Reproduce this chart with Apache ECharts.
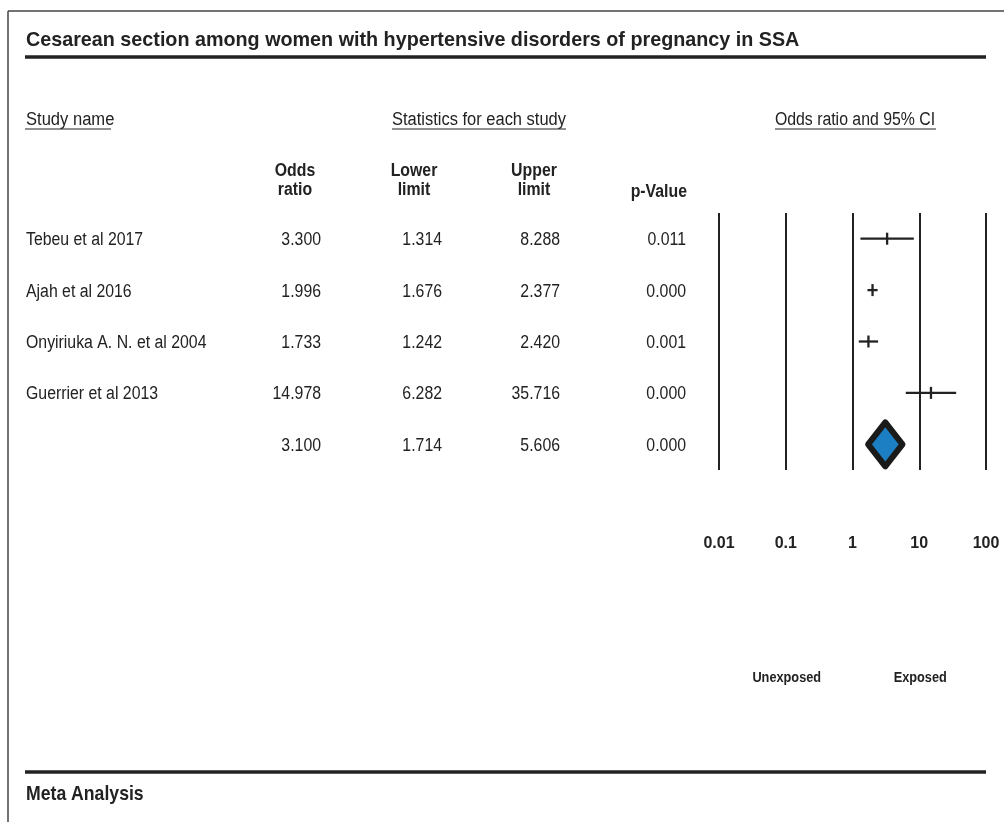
<!DOCTYPE html>
<html>
<head>
<meta charset="utf-8">
<script src="https://cdn.jsdelivr.net/npm/echarts@6/dist/echarts.min.js"></script>
<style>
  html, body { margin: 0; padding: 0; background: #fff; }
  #chart { width: 1004px; height: 822px; }
</style>
</head>
<body>
<div id="chart"></div>
<script>
// Study-level results (odds ratio with 95% CI); the last row is the pooled estimate
const studyNames   = ['Tebeu et al 2017', 'Ajah et al 2016', 'Onyiriuka A. N. et al 2004', 'Guerrier et al 2013', ''];
const oddsRatios   = [3.300, 1.996, 1.733, 14.978, 3.100];
const lowerLimits  = [1.314, 1.676, 1.242, 6.282, 1.714];
const upperLimits  = [8.288, 2.377, 2.420, 35.716, 5.606];
const pValues      = ['0.011', '0.000', '0.001', '0.000', '0.000'];
const tickLabels   = ['0.01', '0.1', '1', '10', '100'];
const rowKeys      = ['0', '1', '2', '3', '4'];
const summaryRow   = 4;

const FONT = "'Liberation Sans', Arial, Helvetica, sans-serif";
const INK = '#222';

const chart = echarts.init(document.getElementById('chart'), null, { renderer: 'canvas' });

const studyData = [];
for (let i = 0; i < summaryRow; i++) {
  studyData.push([lowerLimits[i], upperLimits[i], oddsRatios[i], i]);
}
const summaryData = [[lowerLimits[summaryRow], upperLimits[summaryRow], oddsRatios[summaryRow], summaryRow]];

chart.setOption({
  animation: false,
  backgroundColor: '#fff',
  grid: { left: 719, right: 18, top: 213, bottom: 352, containLabel: false },
  xAxis: {
    type: 'log',
    logBase: 10,
    min: 0.01,
    max: 100,
    axisLine: { show: false },
    axisTick: { show: false },
    splitLine: { show: true, lineStyle: { color: INK, width: 2 } },
    axisLabel: {
      margin: 66,
      fontFamily: FONT,
      fontWeight: 'bold',
      fontSize: 16,
      color: INK,
      formatter: (v) => tickLabels[Math.round(Math.log10(v)) + 2]
    }
  },
  yAxis: {
    type: 'category',
    data: rowKeys,
    inverse: true,
    show: false
  },
  series: [
    {
      type: 'custom',
      name: 'studies',
      data: studyData,
      encode: { x: [0, 1, 2], y: 3 },
      renderItem: (params, api) => {
        const row = api.value(3);
        const pl = api.coord([api.value(0), row]);
        const pu = api.coord([api.value(1), row]);
        const pm = api.coord([api.value(2), row]);
        const y = pm[1];
        return {
          type: 'group',
          children: [
            { type: 'line', shape: { x1: pl[0], y1: y, x2: pu[0], y2: y }, style: { stroke: INK, lineWidth: 2.3 } },
            { type: 'line', shape: { x1: pm[0], y1: y - 6, x2: pm[0], y2: y + 6 }, style: { stroke: INK, lineWidth: 2.3 } }
          ]
        };
      }
    },
    {
      type: 'custom',
      name: 'pooled',
      data: summaryData,
      encode: { x: [0, 1, 2], y: 3 },
      renderItem: (params, api) => {
        const row = api.value(3);
        const pl = api.coord([api.value(0), row]);
        const pu = api.coord([api.value(1), row]);
        const pm = api.coord([api.value(2), row]);
        const y = pm[1];
        const h = 22;
        return {
          type: 'polygon',
          shape: { points: [[pl[0], y], [pm[0], y - h], [pu[0], y], [pm[0], y + h]] },
          style: { fill: '#1c7ec3', stroke: '#1a1a1a', lineWidth: 6, lineJoin: 'round' }
        };
      }
    }
  ]
});

// Text helper: anchor at (x, y), horizontally condensed around the anchor
function label(x, y, text, o) {
  o = o || {};
  return {
    type: 'text',
    x: x,
    y: y,
    scaleX: o.sx || 0.88,
    silent: true,
    style: {
      text: text,
      fontFamily: FONT,
      fontSize: o.size || 18,
      fontWeight: o.bold ? 'bold' : 'normal',
      fill: o.color || INK,
      align: o.align || 'left',
      verticalAlign: 'middle'
    }
  };
}
function rule(x1, y1, x2, y2, w, c) {
  return { type: 'line', silent: true, shape: { x1, y1, x2, y2 }, style: { stroke: c || INK, lineWidth: w } };
}

const rowY = rowKeys.map((k, i) => chart.convertToPixel({ yAxisIndex: 0 }, i) + 1.5);

const g = [];
// frame and heavy rules
g.push(rule(8, 11, 1004, 11, 1.5, '#444'));
g.push(rule(8, 11, 8, 822, 1.5, '#444'));
g.push(rule(25, 57, 986, 57, 3.5));
g.push(rule(25, 772, 986, 772, 3.5));

// title and footer
g.push(label(26, 40, 'Cesarean section among women with hypertensive disorders of pregnancy in SSA', { size: 21, bold: true, sx: 0.94 }));
g.push(label(26, 794, 'Meta Analysis', { size: 21, bold: true, sx: 0.84 }));

// underlined section headings
g.push(label(26, 120, 'Study name', { sx: 0.92 }));
g.push(rule(25, 129, 111, 129, 1.2));
g.push(label(479, 120, 'Statistics for each study', { align: 'center', sx: 0.915 }));
g.push(rule(392, 129, 566, 129, 1.2));
g.push(label(855, 120, 'Odds ratio and 95% CI', { align: 'center', sx: 0.88 }));
g.push(rule(775, 129, 936, 129, 1.2));

// column headings
g.push(label(295, 171, 'Odds', { align: 'center', bold: true }));
g.push(label(295, 190, 'ratio', { align: 'center', bold: true }));
g.push(label(414, 171, 'Lower', { align: 'center', bold: true }));
g.push(label(414, 190, 'limit', { align: 'center', bold: true }));
g.push(label(534, 171, 'Upper', { align: 'center', bold: true }));
g.push(label(534, 190, 'limit', { align: 'center', bold: true }));
g.push(label(687, 192, 'p-Value', { align: 'right', bold: true }));

// table rows
rowKeys.forEach((k, i) => {
  const y = rowY[i];
  if (studyNames[i]) g.push(label(26, y, studyNames[i]));
  g.push(label(321, y, oddsRatios[i].toFixed(3), { align: 'right' }));
  g.push(label(442, y, lowerLimits[i].toFixed(3), { align: 'right' }));
  g.push(label(560, y, upperLimits[i].toFixed(3), { align: 'right' }));
  g.push(label(686, y, pValues[i], { align: 'right' }));
});

// direction labels under the scale
const xUn = chart.convertToPixel({ xAxisIndex: 0 }, 0.1);
const xEx = chart.convertToPixel({ xAxisIndex: 0 }, 10);
g.push(label(xUn + 1, 678, 'Unexposed', { align: 'center', bold: true, size: 15, sx: 0.85 }));
g.push(label(xEx + 1, 678, 'Exposed', { align: 'center', bold: true, size: 15, sx: 0.85 }));

chart.setOption({ graphic: { elements: g } });
</script>
</body>
</html>
